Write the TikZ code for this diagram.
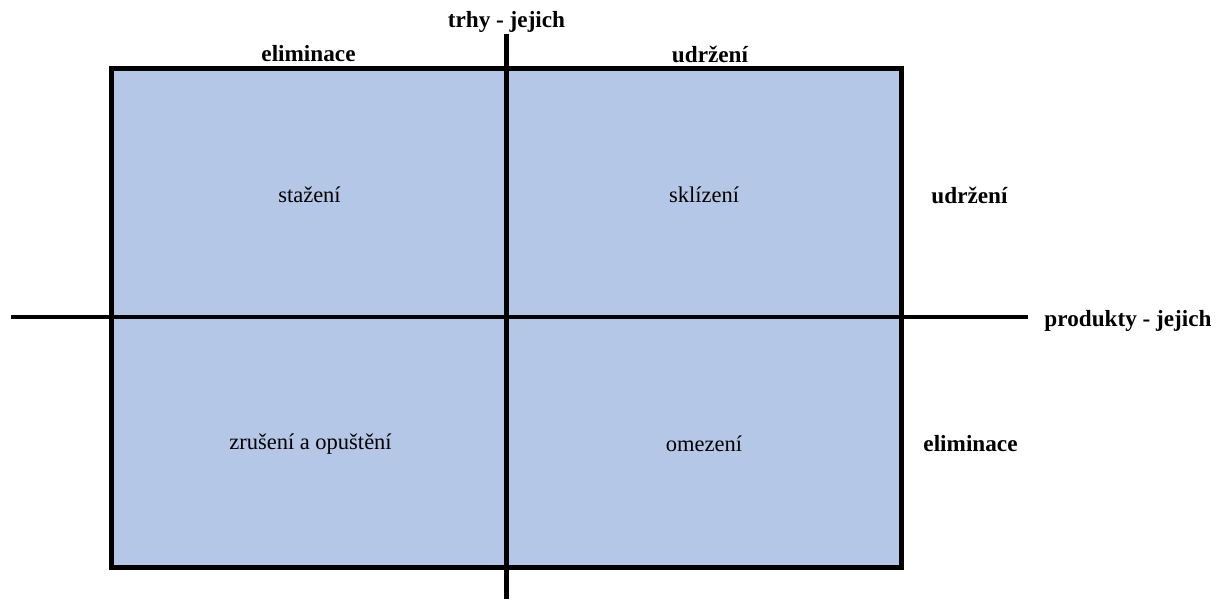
\documentclass[tikz,border=0pt]{standalone}
\usepackage{fontspec}
\setmainfont{Liberation Serif}
\usetikzlibrary{positioning}

\definecolor{quadblue}{HTML}{B4C7E7}

\begin{document}
\begin{tikzpicture}[x=0.025cm, y=-0.025cm, line width=3.5pt,
    axislabel/.style={font=\fontsize{16.5}{19}\selectfont\bfseries, inner sep=0pt},
    quadlabel/.style={font=\fontsize{16}{19}\selectfont, inner sep=0pt}]
    \useasboundingbox (0,0) rectangle (1224,599);

    % the four quadrants
    \node[draw=black, fill=quadblue, minimum width=790*0.025cm, minimum height=499*0.025cm, inner sep=0pt] (box) at (506.5,318) {};

    % axes
    \coordinate (vTop) at (506.5,33.5);
    \coordinate (vBot) at (506.5,598.5);
    \coordinate (hLeft) at (11,317);
    \coordinate (hRight) at (1028,317);
    \draw (vTop) -- (vBot);
    \draw (hLeft) -- (hRight);

    % axis labels
    \node[axislabel] (trhy) at (506.5,22) {trhy - jejich};
    \node[axislabel] (topLeft) at (308.5,54) {eliminace};
    \node[axislabel] (topRight) at (710,54) {udržení};
    \node[axislabel, anchor=west] (produkty) at (1042,321) {produkty - jejich};
    \node[axislabel, anchor=west] (rightTop) at (929,195) {udržení};
    \node[axislabel, anchor=west] (rightBot) at (921,444) {eliminace};

    % quadrant labels
    \node[quadlabel] (stazeni) at (309.5,195) {stažení};
    \node[quadlabel] (sklizeni) at (704,195) {sklízení};
    \node[quadlabel] (zruseni) at (310.5,444) {zrušení a opuštění};
    \node[quadlabel] (omezeni) at (704,444) {omezení};
\end{tikzpicture}
\end{document}
